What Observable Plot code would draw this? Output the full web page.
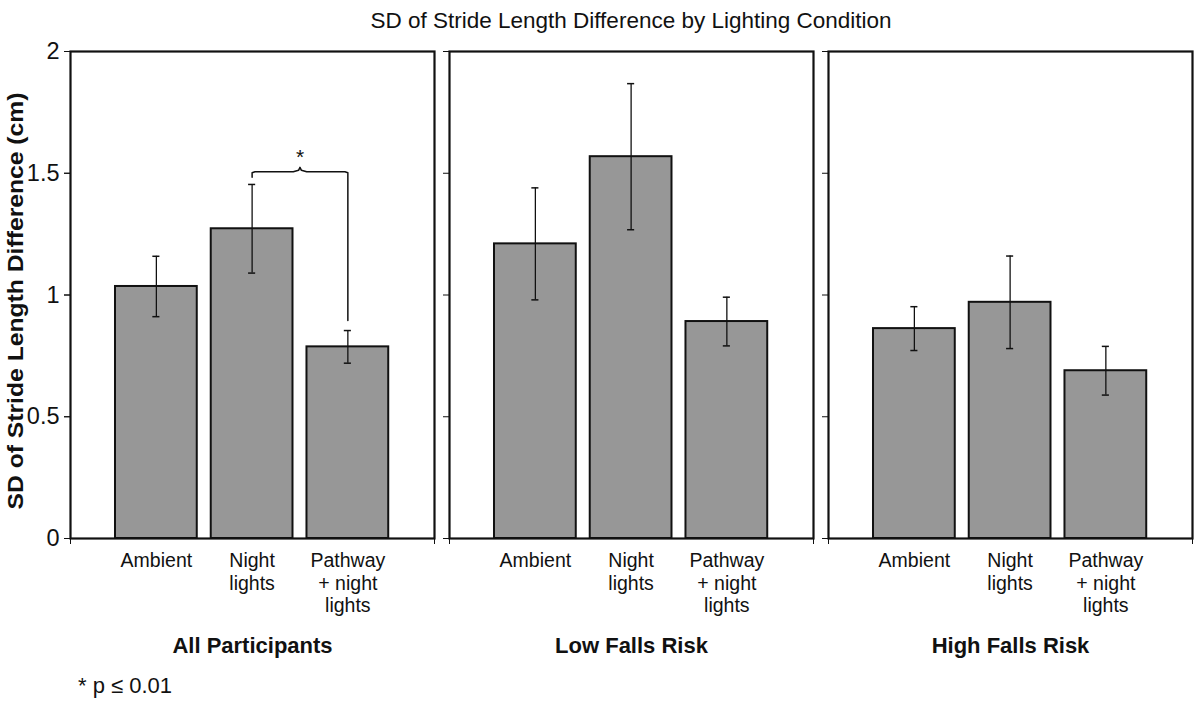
<!DOCTYPE html>
<html>
<head>
<meta charset="utf-8">
<script src="https://cdn.jsdelivr.net/npm/d3@7"></script>
<script src="https://cdn.jsdelivr.net/npm/@observablehq/plot@0.6"></script>
<style>
  html, body { margin: 0; padding: 0; background: #fff; }
  #chart { width: 1200px; height: 703px; }
</style>
</head>
<body>
<div id="chart"></div>
<script>
// ---- data ----
const groups = ["All Participants", "Low Falls Risk", "High Falls Risk"];
const conditions = ["Ambient", "Night\nlights", "Pathway\n+ night\nlights"];
const allMeans = [1.035, 1.272, 0.787];
const allErr = [0.124, 0.182, 0.067];
const lowMeans = [1.21, 1.568, 0.891];
const lowErr = [0.23, 0.30, 0.10];
const highMeans = [0.862, 0.970, 0.689];
const highErr = [0.09, 0.19, 0.10];
const yTicks = [0, 0.5, 1, 1.5, 2];
const yTickLabels = ["0", "0.5", "1", "1.5", "2"];
// significance annotation: between condition 1 and 2 in "All Participants"
const sigGroup = "All Participants";
const sigFrom = 1, sigTo = 2, sigLevel = 1.506, sigFromStart = 1.484, sigToEnd = 0.895;
const sigText = "*";
const title = "SD of Stride Length Difference by Lighting Condition";
const yLabel = "SD of Stride Length Difference (cm)";
const footnote = "* p \u2264 0.01";

// ---- build table ----
const meansBy = [allMeans, lowMeans, highMeans];
const errBy = [allErr, lowErr, highErr];
const data = [];
groups.forEach((g, gi) => conditions.forEach((c, i) => {
  data.push({group: g, i, cond: c, value: meansBy[gi][i], lo: meansBy[gi][i] - errBy[gi][i], hi: meansBy[gi][i] + errBy[gi][i]});
}));

const half = 0.427;   // bar half-width (x units)
const cap = 0.037;    // error cap half-width
const nb = 0.07;      // notch half-width
const mid = (sigFrom + sigTo) / 2;
const bracket = [
  {group: sigGroup, x: sigFrom, y: sigFromStart},
  {group: sigGroup, x: sigFrom, y: sigLevel - 0.004},
  {group: sigGroup, x: sigFrom + 0.03, y: sigLevel},
  {group: sigGroup, x: mid - nb, y: sigLevel},
  {group: sigGroup, x: mid - 0.015, y: sigLevel + 0.006},
  {group: sigGroup, x: mid, y: sigLevel + 0.018},
  {group: sigGroup, x: mid + 0.015, y: sigLevel + 0.006},
  {group: sigGroup, x: mid + nb, y: sigLevel},
  {group: sigGroup, x: sigTo - 0.03, y: sigLevel},
  {group: sigGroup, x: sigTo, y: sigLevel - 0.004},
  {group: sigGroup, x: sigTo, y: sigToEnd}
];

const font = "'Liberation Sans', Arial, Helvetica, sans-serif";

const plot = Plot.plot({
  width: 1200,
  height: 703,
  marginLeft: 69,
  marginRight: 8,
  marginTop: 51,
  marginBottom: 165,
  style: {fontFamily: font, fontSize: "19px", color: "#111", background: "white"},
  fx: {domain: groups, paddingInner: 0.04, paddingOuter: 0},
  x: {domain: [-0.897, 2.905]},
  y: {domain: [0, 2]},
  marks: [
    Plot.rect(data, {fx: "group", x1: d => d.i - half, x2: d => d.i + half, y1: 0, y2: "value", fill: "#979797", stroke: "#111", strokeWidth: 2}),
    Plot.ruleX(data, {fx: "group", x: "i", y1: "lo", y2: "hi", stroke: "#111", strokeWidth: 1.3}),
    Plot.ruleY(data, {fx: "group", y: "lo", x1: d => d.i - cap, x2: d => d.i + cap, stroke: "#111", strokeWidth: 1.5}),
    Plot.ruleY(data, {fx: "group", y: "hi", x1: d => d.i - cap, x2: d => d.i + cap, stroke: "#111", strokeWidth: 1.5}),
    Plot.line(bracket, {fx: "group", x: "x", y: "y", stroke: "#111", strokeWidth: 1.5, curve: "linear"}),
    Plot.text([{group: sigGroup}], {fx: "group", x: () => mid, y: () => sigLevel + 0.03, text: () => sigText, fontSize: 21, lineAnchor: "bottom"}),
    Plot.frame({stroke: "#111", strokeWidth: 2.2}),
    Plot.axisY({ticks: yTicks, tickFormat: (d) => yTickLabels[yTicks.indexOf(d)], tickSize: 6, tickPadding: 5, fontSize: 23.5, label: null, stroke: "#111"}),
    Plot.axisY({ticks: yTicks, tickFormat: () => "", tickSize: 6, label: null, facetAnchor: null, stroke: "#111"}),
    Plot.axisX({ticks: [0, 1, 2], tickFormat: d => conditions[d], tickSize: 0, tickPadding: 13, fontSize: 19.5, lineHeight: 1.15, label: null}),
    Plot.axisX({ticks: [-0.897, 2.905], tickFormat: () => "", tickSize: 6, label: null, stroke: "#111"}),
    Plot.axisFx({anchor: "bottom", label: null, tickSize: 0, tickPadding: 99, fontSize: 22, fontWeight: "bold"})
  ]
});

document.getElementById("chart").appendChild(plot);

// titles and notes as svg text
const svg = d3.select(plot);
svg.append("text")
  .attr("x", 631).attr("y", 28)
  .attr("text-anchor", "middle")
  .style("font-family", font).style("font-size", "22.5px").attr("fill", "#111")
  .text(title);
svg.append("text")
  .attr("transform", "translate(23,301) rotate(-90)")
  .attr("text-anchor", "middle")
  .attr("textLength", 417).attr("lengthAdjust", "spacingAndGlyphs")
  .style("font-family", font).style("font-size", "22px").style("font-weight", "bold").attr("fill", "#111")
  .text(yLabel);
svg.append("text")
  .attr("x", 78).attr("y", 693)
  .attr("text-anchor", "start")
  .style("font-family", font).style("font-size", "22px").attr("fill", "#111")
  .text(footnote);
</script>
</body>
</html>
